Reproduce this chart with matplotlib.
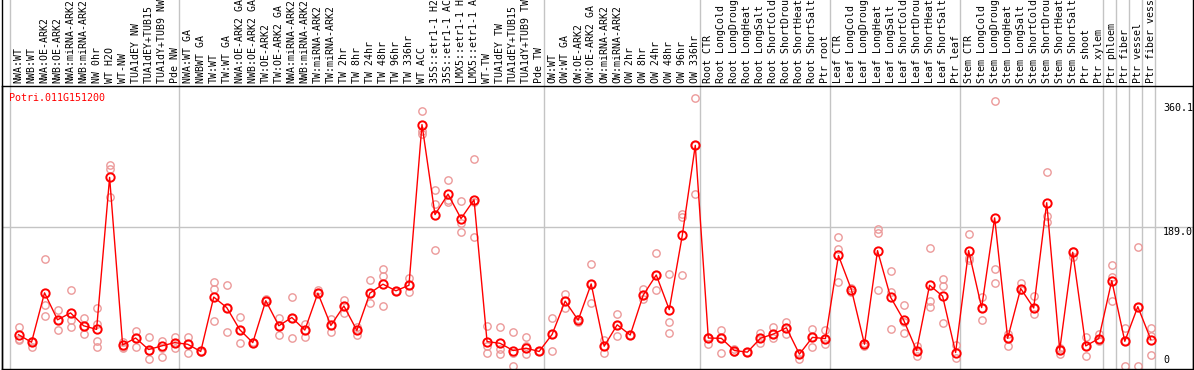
import matplotlib
matplotlib.use("Agg")
import matplotlib.pyplot as plt
from matplotlib.lines import Line2D

gene = "Potri.011G151200"

# sample names as far as they are visible in the header strip
samples = [
    "NWA:WT", "NWB:WT", "NWA:OE-ARK2", "NWB:OE-ARK2", "NWA:miRNA-ARK2", "NWB:miRNA-ARK2",
    "NW 0hr", "WT H2O", "WT-NW", "TUA1dEY NW", "TUA1dEY+TUB15", "TUA1dY+TUB9 NW", "Pde NW",
    "NWA:WT GA", "NWBWT GA", "TW:WT", "TW:WT GA", "NWA:OE-ARK2 GA", "NWB:OE-ARK2 GA",
    "TW:OE-ARK2", "TW:OE-ARK2 GA", "NWA:miRNA-ARK2", "NWB:miRNA-ARK2", "TW:miRNA-ARK2",
    "TW:miRNA-ARK2", "TW 2hr", "TW 8hr", "TW 24hr", "TW 48hr", "TW 96hr", "TW 336hr",
    "WT ACC", "35S::etr1-1 H2", "35S::etr1-1 AC", "LMX5::etr1-1 H", "LMX5::etr1-1 A",
    "WT-TW", "TUA1dEY TW", "TUA1dEY+TUB15", "TUA1dY+TUB9 TW", "Pde TW",
    "OW:WT", "OW:WT GA", "OW:OE-ARK2", "OW:OE-ARK2 GA", "OW:miRNA-ARK2", "OW:miRNA-ARK2",
    "OW 2hr", "OW 8hr", "OW 24hr", "OW 48hr", "OW 96hr", "OW 336hr",
    "Root CTR", "Root LongCold", "Root LongDroug", "Root LongHeat", "Root LongSalt",
    "Root ShortCold", "Root ShortDrou", "Root ShortHeat", "Root ShortSalt", "Ptr root",
    "Leaf CTR", "Leaf LongCold", "Leaf LongDroug", "Leaf LongHeat", "Leaf LongSalt",
    "Leaf ShortCold", "Leaf ShortDrou", "Leaf ShortHeat", "Leaf ShortSalt", "Ptr leaf",
    "Stem CTR", "Stem LongCold", "Stem LongDroug", "Stem LongHeat", "Stem LongSalt",
    "Stem ShortCold", "Stem ShortDrou", "Stem ShortHeat", "Stem ShortSalt",
    "Ptr shoot", "Ptr xylem", "Ptr phloem", "Ptr fiber", "Ptr vessel", "Ptr fiber vess",
]

# mean expression per sample
means = [
    43.5, 33.3, 99.8, 63.5, 72.8, 55.5, 50.6, 255.1, 29.7, 39.0, 23.5, 28.4, 32.8,
    30.6, 20.9, 94.1, 79.9, 50.2, 32.8, 89.2, 55.5, 66.6, 49.7, 99.4, 55.9, 82.1,
    49.2, 99.4, 111.4, 102.5, 110.0, 326.1, 205.0, 232.5, 199.7, 225.0, 34.2, 31.9,
    22.2, 25.3, 20.9,
    43.9, 88.7, 63.0, 111.8, 28.0, 56.8, 43.0, 96.7, 123.8, 77.2, 177.0, 298.2,
    39.0, 38.6, 22.2, 20.0, 38.6, 44.4, 52.8, 17.3, 39.9, 38.2,
    150.0, 103.8, 30.6, 156.6, 94.1, 63.5, 22.2, 110.0, 95.4, 19.5,
    156.6, 79.9, 200.6, 38.6, 105.6, 79.4, 221.0, 23.0, 154.4,
    28.4, 38.2, 116.2, 34.6, 81.2, 36.9,
]

# individual replicates per sample
replicates = [
    [54, 37.7, 36.4], [35.5, 27.5, 33.3], [145, 83, 68.8], [76.8, 50.2, 63.5],
    [103.8, 63, 53.2], [66.6, 43.9, 55.5], [79.9, 57.7, 34.6, 27.5], [271.5, 266.2, 228.5],
    [34.2, 27.5, 25.7], [47.9, 27.5, 39], [40.8, 10.2, 21.3], [35.5, 13.3, 25.7],
    [39.9, 25.7, 32.8],
    [40.8, 18.2, 30.6], [21.5, 20.3], [114.5, 104.7, 62.1], [110, 47.5, 79.9],
    [67.5, 32.4, 50.2], [33.5, 32.8], [91, 89.2], [66.6, 43.5, 55.5], [94.5, 38.6, 66.6],
    [57.7, 40.8, 49.7], [103, 99.4], [64.3, 47.5, 55.9], [89.6, 72.3, 82.1],
    [54.1, 43.5, 49.2], [116.7, 86.5, 99.4], [131.8, 122, 82.1], [102.5, 102.5],
    [119.8, 101.2, 110], [343.8, 317.2, 312.8], [238.3, 219.6, 158], [252, 224, 222],
    [223.2, 194.3, 181], [279.5, 221.9, 175.3], [55.5, 28.9, 18.6], [54.1, 17.7, 24],
    [47.5, 19.1, 1.3], [40.8, 28, 17.7], [20.9, 21],
    [66.6, 20.9, 43.9], [98.5, 79.9, 88.7], [59.9, 64.5], [138.4, 86.5, 111.8],
    [36.4, 19.5, 28], [71.9, 42.2, 56.8], [43, 43.5], [104.3, 91, 96.7], [153.1, 103, 123.8],
    [125.1, 60.8, 46.2], [206.3, 201.9, 123.4], [361.6, 232.5, 298.2],
    [41, 31, 39], [49.6, 18.6, 38.6], [24, 20.5], [20.5, 20], [45.3, 31.9, 38.6],
    [53.2, 39, 44.4], [61.2, 44.4, 52.8], [19, 10.2, 17.3], [50.6, 26.6, 39.9],
    [49.6, 31, 38.2],
    [175.3, 159.3, 114], [106, 101.5], [32, 28.5], [185.4, 179.7, 103.4],
    [128.7, 101.2, 51.5], [83.4, 60, 46.2], [28.9, 14.2, 22.2], [160.6, 88.7, 80.8],
    [118.9, 108.7, 59.5], [29.7, 12.4],
    [178.4, 147.3, 144], [94.1, 63.5, 79.9], [357.6, 131.4, 112.7], [44.4, 28.9, 38.6],
    [113.1, 104], [95.4, 71.9, 79.4], [261.8, 202.7, 195.3], [25.5, 17.7, 23],
    [156, 148.6],
    [39.9, 14.2, 28.4], [44.4, 34.6, 38.2], [136.7, 120.7, 88.7], [52.3, 0.9, 34.6],
    [162, 0.9, 81.2], [52.3, 42.2, 16.4],
]

# group separators (index of first sample in each block)
separators = [0, 13, 41, 53, 63, 73, 84, 85, 86, 87, 88]

W, H = 1194, 370
fig = plt.figure(figsize=(W / 100, H / 100), dpi=100)
ax = fig.add_axes([2 / W, 1.5 / H, 1191 / W, 282.5 / H])

mono = "DejaVu Sans Mono"
pink = "#ec9a9a"
red = "#ff0000"
grey = "#c4c4c4"

x = list(range(len(samples)))

# replicates
for i, reps in enumerate(replicates):
    ax.plot([i] * len(reps), reps, linestyle="none", marker="o", markersize=5.3,
            markerfacecolor="none", markeredgecolor=pink, markeredgewidth=1.0,
            clip_on=True, zorder=2)

# mean line
ax.plot(x, means, color=red, linewidth=1.0, marker="o", markersize=6,
        markerfacecolor="none", markeredgecolor=red, markeredgewidth=1.4, zorder=3)

ax.set_xlim(-1.268, 90.24)
ax.set_ylim(-2.0, 378.0)

# grid
ax.axhline(189.0, color=grey, linewidth=1.0, zorder=1)
for k in separators:
    ax.axvline(k - 0.654, ymin=0, ymax=H / 282.5, color=grey, linewidth=1.0,
               clip_on=False, zorder=1)

# sample labels on top
ax.xaxis.tick_top()
ax.set_xticks(x)
ax.set_xticklabels(samples, rotation=90, fontfamily=mono, fontsize=7.1)
ax.tick_params(axis="x", length=0, pad=2.2)
ax.set_yticks([])

for s in ax.spines.values():
    s.set_color("black")
    s.set_linewidth(1.0)

# right-hand value labels
for val, off in [(360.1, -2.5), (189.0, 0.0), (0.0, 8.6)]:
    txt = "0" if val == 0 else f"{val:.1f}"
    ax.annotate(txt, xy=(87.94, val), xytext=(0, off), textcoords="offset points",
                va="top", ha="left", fontfamily=mono, fontsize=7.2, color="black",
                annotation_clip=False)

ax.text(0.0062, 1 - 6.7 / 282.5, gene, transform=ax.transAxes, va="top", ha="left",
        fontfamily=mono, fontsize=7.2, color=red)

# outer frame through the label area
fig.add_artist(Line2D([1.5 / W, 1.5 / W], [0, 1], color="black", linewidth=1.0))
fig.add_artist(Line2D([1 - 1.5 / W, 1 - 1.5 / W], [0, 1], color="black", linewidth=1.0))

fig.savefig("out.png", dpi=100)
